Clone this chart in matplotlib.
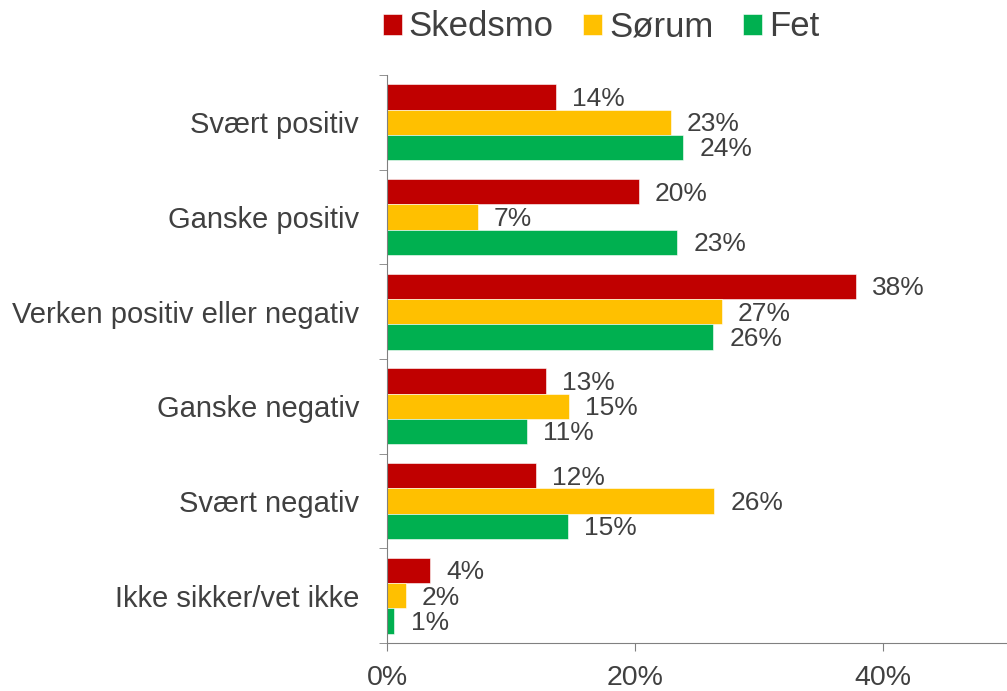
import matplotlib.pyplot as plt
import numpy as np

plt.rcParams['font.family'] = ['Liberation Sans', 'DejaVu Sans']

# Données
kategorier = ["Svært positiv", "Ganske positiv", "Verken positiv eller negativ",
              "Ganske negativ", "Svært negativ", "Ikke sikker/vet ikke"]
skedsmo = [13.6, 20.3, 37.8, 12.8, 12.0, 3.5]
sorum = [22.9, 7.3, 27.0, 14.7, 26.4, 1.5]
fet = [23.9, 23.4, 26.3, 11.3, 14.6, 0.6]
serier = ["Skedsmo", "Sørum", "Fet"]
farger = ["#C00000", "#FFC000", "#00B050"]
tekstfarge = "#404040"

fig = plt.figure(figsize=(10.07, 6.91), dpi=100)
ax = fig.add_axes([387/1007, 1 - 643/691, 620/1007, (643-75)/691])

y = np.arange(len(kategorier))
h = 0.8 / 3
for i, (verdier, navn, farge) in enumerate(zip([skedsmo, sorum, fet], serier, farger)):
    pos = y - 0.4 + h/2 + i*h
    ax.barh(pos, verdier, height=h, color=farge, label=navn, edgecolor='white', linewidth=0.4)
    for p, v in zip(pos, verdier):
        ax.text(v + 1.3, p + 0.02, f"{round(v):.0f}%", va='center', ha='left',
                fontsize=19, color=tekstfarge)

ax.set_xlim(0, 50)
ax.set_ylim(len(kategorier) - 0.5, -0.5)
ax.set_xticks([0, 20, 40])
ax.set_xticklabels(["0%", "20%", "40%"], fontsize=20.5, color=tekstfarge)
ax.set_yticks(y)
ax.set_yticklabels(kategorier, fontsize=21, color=tekstfarge)
ax.set_yticks(np.arange(-0.5, len(kategorier)), minor=True)
ax.tick_params(axis='y', which='major', length=0, pad=20)
ax.tick_params(axis='y', which='minor', length=6, color='#808080', direction='out')
ax.tick_params(axis='x', length=6, color='#808080', pad=10)

for s in ['top', 'right']:
    ax.spines[s].set_visible(False)
ax.spines['left'].set_color('#808080')
ax.spines['bottom'].set_color('#808080')

fig.legend(loc='center', bbox_to_anchor=(601/1007, 1 - 27/691), ncol=3, frameon=False,
           fontsize=25, handlelength=0.55, handleheight=0.55, handletextpad=0.2,
           columnspacing=0.85, labelcolor=tekstfarge)

plt.savefig("out.png", dpi=100)
